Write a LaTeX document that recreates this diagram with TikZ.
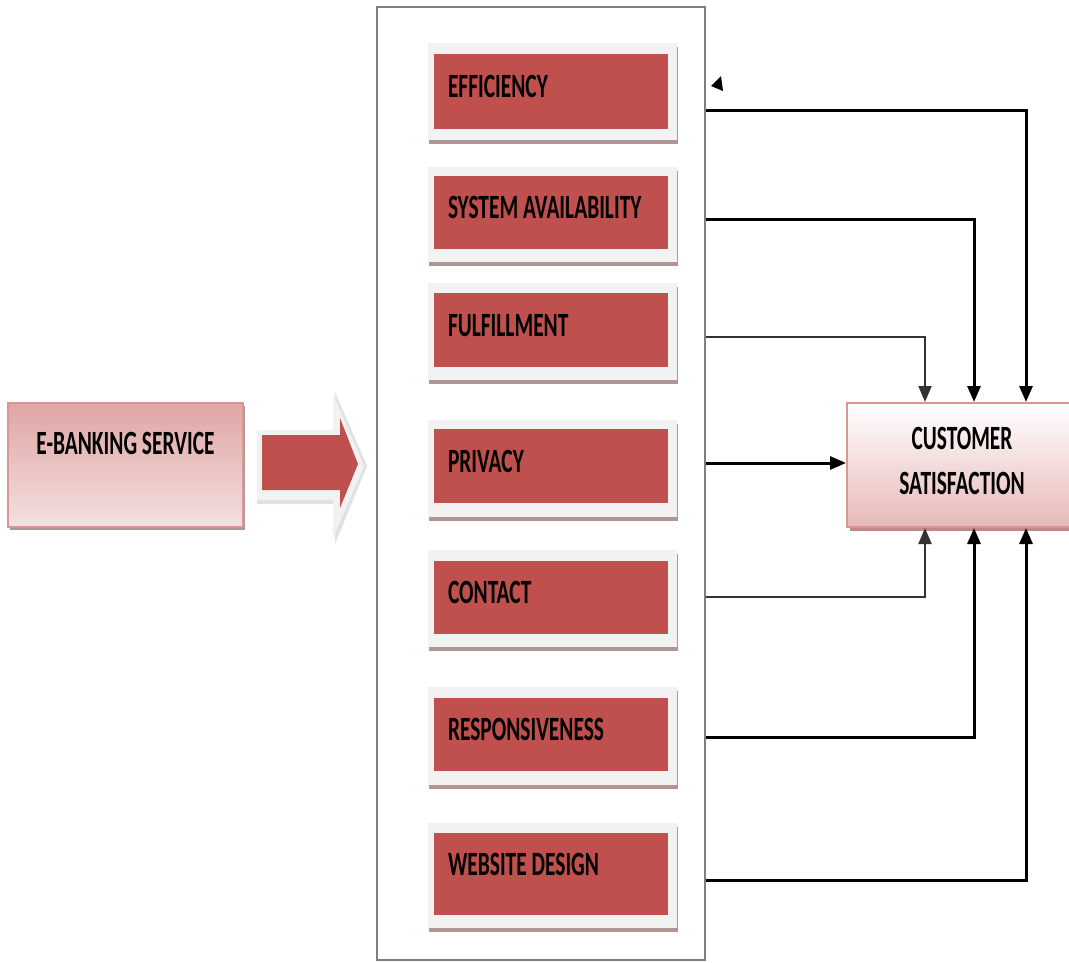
\documentclass[tikz,border=0pt]{standalone}
\usepackage{fontspec}
\setmainfont{Carlito}
\newfontfamily\condfont[FakeStretch=0.63]{Carlito}
\usetikzlibrary{arrows.meta,shadows,calc}
\definecolor{boxred}{HTML}{C0504D}
\definecolor{framegray}{HTML}{F2F2F2}
\definecolor{frameshadow}{HTML}{B09595}
\definecolor{pinkborder}{HTML}{D99694}
\definecolor{pinklight}{HTML}{F4E0E0}
\definecolor{pinkmid}{HTML}{E6B9B8}
\definecolor{contgray}{HTML}{7F7F7F}
\newcommand\resetsp{\spaceskip=0pt\xspaceskip=0pt\relax}
\begin{document}
\begin{tikzpicture}[x=1pt,y=-1pt,
  lbl/.style={font=\condfont\bfseries\fontsize{34}{45}\selectfont, text=black},
  framebox/.style={fill=framegray, minimum width=249, minimum height=97, inner sep=0,
     drop shadow={shadow xshift=1pt, shadow yshift=-4pt, fill=frameshadow, opacity=1}},
  redbox/.style={lbl, fill=boxred, text width=206, align=left, inner xsep=14, inner ysep=0,
     minimum height=74, text height=22, text depth=10},
  thickcon/.style={line width=3pt, black, -{Triangle[width=13pt,length=16pt]}},
  thincon/.style={line width=2pt, black!80, -{Triangle[width=13pt,length=16pt]}}
]
\useasboundingbox (0,0) rectangle (1069,963);
\fill[white] (0,0) rectangle (1069,963);

% container
\node[draw=contgray, line width=1.5pt, minimum width=328, minimum height=953, inner sep=0] (cont) at (541,483.5) {};

% frames
\node[framebox] (feff) at (552.5,91.5) {};
\node[framebox, minimum height=95] (fsys) at (552.5,214.5) {};
\node[framebox] (fful) at (552.5,331.5) {};
\node[framebox] (fpri) at (552.5,468.5) {};
\node[framebox] (fcon) at (552.5,598.5) {};
\node[framebox, minimum height=98] (fres) at (552.5,736) {};
\node[framebox, minimum height=105] (fweb) at (552.5,875.5) {};

% red boxes
\node[redbox, minimum height=75] (eff) at (551,91.5) {EFFICIENCY};
\node[redbox, minimum height=73] (sys) at (551,212.5) {\resetsp SYSTEM AVAILABILITY};
\node[redbox] (ful) at (551,330) {FULFILLMENT};
\node[redbox] (pri) at (551,466) {PRIVACY};
\node[redbox, minimum height=73] (con) at (551,597.5) {CONTACT};
\node[redbox, minimum height=73] (res) at (551,734.5) {RESPONSIVENESS};
\node[redbox, minimum height=82, text depth=20] (web) at (551,874) {\resetsp WEBSITE DESIGN};

% E-banking box
\node[lbl, draw=pinkborder, line width=1.5pt, top color=pinkborder!85, bottom color=pinklight,
      minimum width=235, minimum height=124, inner sep=0, align=center,
      text height=22, text depth=44,
      drop shadow={shadow xshift=2pt, shadow yshift=-3pt, fill=frameshadow, opacity=1}]
      (ebank) at (125.5,465) {E-BANKING SERVICE};

% customer satisfaction box
\node[lbl, draw=pinkborder, line width=2pt, top color=white, bottom color=pinkmid,
      minimum width=230, minimum height=124, inner sep=0, align=center,
      text height=80, text depth=22,
      drop shadow={shadow xshift=3pt, shadow yshift=-4pt, fill=pinkborder!90!black, opacity=1}]
      (cs) at (962,465) {CUSTOMER\\SATISFACTION};

% big block arrow
\fill[framegray!85!gray] (257,430) -- (335,430) -- (335,392) -- (367,466) -- (335,544) -- (335,504) -- (257,504) -- cycle;
\fill[framegray] (257,430) -- (333,430) -- (333,394) -- (364,466) -- (333,538) -- (333,500) -- (257,500) -- cycle;
\fill[boxred] (262,435) -- (340,435) -- (340,418) -- (358,464) -- (340,508) -- (340,490) -- (262,490) -- cycle;

% exit coordinates on container edge
\coordinate (oeff) at (cont.east |- 0,111);
\coordinate (osys) at (cont.east |- 0,219);
\coordinate (oful) at (cont.east |- 0,337);
\coordinate (opri) at (cont.east |- 0,463);
\coordinate (ocon) at (cont.east |- 0,597);
\coordinate (ores) at (cont.east |- 0,737);
\coordinate (oweb) at (cont.east |- 0,880);
\coordinate (xa) at (925,0);
\coordinate (xb) at (974,0);
\coordinate (xc) at (1026,0);

% connectors
\draw[thickcon] (oeff) -| (xc |- cs.north);
\draw[thickcon] (osys) -| (xb |- cs.north);
\draw[thincon] (oful) -| (xa |- cs.north);
\draw[thickcon] (opri) -- (opri -| cs.west);
\draw[thincon] (ocon) -| (xa |- cs.south);
\draw[thickcon] (ores) -| (xb |- cs.south);
\draw[thickcon] (oweb) -| (xc |- cs.south);

% stray arrowhead
\fill[black] (711,86) -- (721,76) -- (723,91) -- cycle;
\end{tikzpicture}
\end{document}
